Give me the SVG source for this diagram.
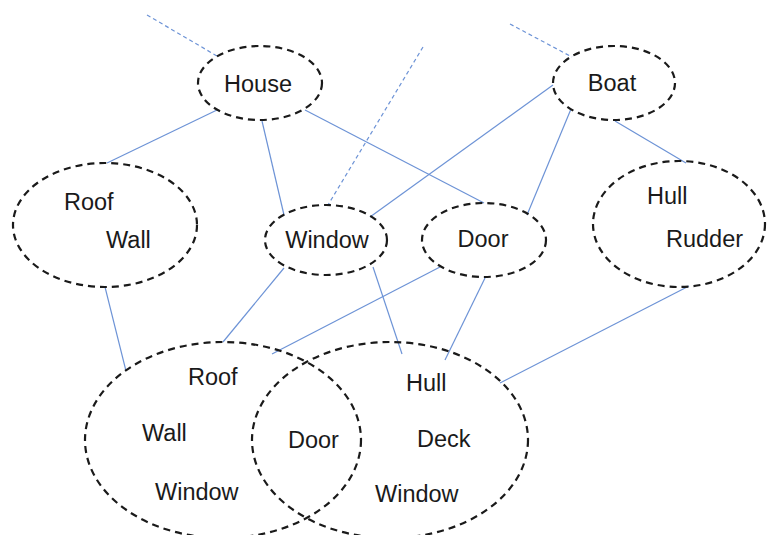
<svg xmlns="http://www.w3.org/2000/svg" width="767" height="535" viewBox="0 0 767 535">
  <style>
    .node { fill: none; stroke: #1a1a1a; stroke-width: 2.2; stroke-dasharray: 7 5; }
    .lbl { font-family: "Liberation Sans", Arial, sans-serif; font-size: 23.5px; fill: #1a1a1a; }
    .edge { stroke: #6d93d6; stroke-width: 1.2; fill: none; }
    .edge.dash { stroke-dasharray: 4 3; }
  </style>
  <rect width="767" height="535" fill="#ffffff"/>

  <!-- connectors -->
  <g id="connectors">
    <line class="edge dash" x1="147" y1="15" x2="217" y2="56"/>
    <line class="edge dash" x1="423" y1="47" x2="328" y2="205"/>
    <line class="edge dash" x1="510" y1="24" x2="572" y2="57"/>
    <line class="edge" x1="217" y1="110" x2="107" y2="163"/>
    <line class="edge" x1="262" y1="121" x2="284" y2="215"/>
    <line class="edge" x1="305" y1="110" x2="484" y2="203"/>
    <line class="edge" x1="553" y1="85" x2="370" y2="217"/>
    <line class="edge" x1="571" y1="109" x2="527" y2="215"/>
    <line class="edge" x1="615" y1="121" x2="686" y2="163"/>
    <line class="edge" x1="105" y1="287" x2="126" y2="371"/>
    <line class="edge" x1="284" y1="268" x2="223" y2="342"/>
    <line class="edge" x1="440" y1="267" x2="272" y2="354"/>
    <line class="edge" x1="373" y1="267" x2="402" y2="354"/>
    <line class="edge" x1="485" y1="278" x2="445" y2="360"/>
    <line class="edge" x1="689" y1="286" x2="500" y2="383"/>
  </g>

  <g id="house">
    <ellipse class="node" cx="260" cy="83" rx="62" ry="37"/>
    <text class="lbl" x="258" y="92" text-anchor="middle">House</text>
  </g>
  <g id="boat">
    <ellipse class="node" cx="614" cy="83" rx="61" ry="37"/>
    <text class="lbl" x="612" y="91" text-anchor="middle">Boat</text>
  </g>
  <g id="roof-wall">
    <ellipse class="node" cx="105" cy="225" rx="92" ry="62"/>
    <text class="lbl" x="64" y="210">Roof</text>
    <text class="lbl" x="106" y="248">Wall</text>
  </g>
  <g id="window">
    <ellipse class="node" cx="326" cy="240" rx="61" ry="35"/>
    <text class="lbl" x="327" y="248" text-anchor="middle">Window</text>
  </g>
  <g id="door">
    <ellipse class="node" cx="484" cy="240" rx="62" ry="37"/>
    <text class="lbl" x="483" y="247" text-anchor="middle">Door</text>
  </g>
  <g id="hull-rudder">
    <ellipse class="node" cx="679" cy="224" rx="86" ry="63"/>
    <text class="lbl" x="647" y="204">Hull</text>
    <text class="lbl" x="666" y="247">Rudder</text>
  </g>
  <g id="house-set">
    <ellipse class="node" cx="223" cy="440" rx="138" ry="98"/>
    <text class="lbl" x="188" y="385">Roof</text>
    <text class="lbl" x="142" y="441">Wall</text>
    <text class="lbl" x="155" y="500">Window</text>
    <text class="lbl" x="288" y="448">Door</text>
  </g>
  <g id="boat-set">
    <ellipse class="node" cx="390" cy="440" rx="138" ry="98"/>
    <text class="lbl" x="406" y="391">Hull</text>
    <text class="lbl" x="417" y="447">Deck</text>
    <text class="lbl" x="375" y="502">Window</text>
  </g>
</svg>
